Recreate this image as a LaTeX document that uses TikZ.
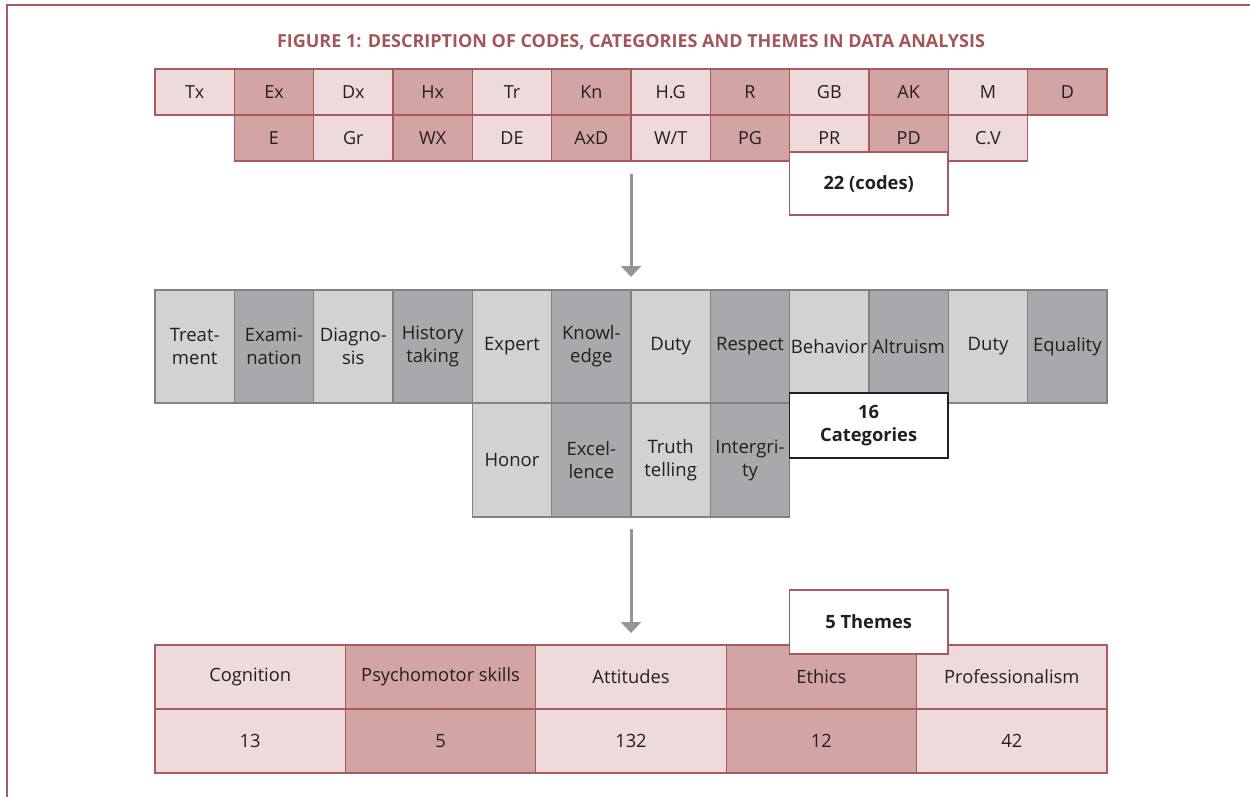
\documentclass[tikz,border=0pt]{standalone}
\usepackage{fontspec}
\setmainfont{Open Sans}
\usetikzlibrary{arrows.meta}
\definecolor{pinkL}{HTML}{EEDADB}
\definecolor{pinkD}{HTML}{D2A4A4}
\definecolor{pinkB}{HTML}{A85A5E}
\definecolor{grayL}{HTML}{D1D2D4}
\definecolor{grayD}{HTML}{A7A9AC}
\definecolor{grayB}{HTML}{808285}
\definecolor{titlec}{HTML}{A3565A}
\definecolor{txt}{HTML}{231F20}
\definecolor{arrowc}{HTML}{939598}
\tikzset{
  base/.style={draw, line width=1.2pt, inner sep=0pt, text=txt, align=center},
  code/.style={base, draw=pinkB, minimum width=79.33pt, minimum height=46pt, font=\fontsize{18}{20}\selectfont},
  codeL/.style={code, fill=pinkL},
  codeD/.style={code, fill=pinkD},
  cat/.style={base, draw=grayB, minimum width=79.33pt, font=\fontsize{18.5}{23}\selectfont},
  catL/.style={cat, fill=grayL},
  catD/.style={cat, fill=grayD},
  theme/.style={base, draw=pinkB, minimum width=190.4pt, minimum height=64pt, font=\fontsize{18.3}{20}\selectfont},
  themeL/.style={theme, fill=pinkL},
  themeD/.style={theme, fill=pinkD},
  label/.style={base, fill=white, minimum width=158.67pt, font=\bfseries\fontsize{18.3}{23}\selectfont},
  flow/.style={draw=arrowc, line width=3pt, -{Triangle[width=20pt,length=11pt]}},
}
\begin{document}
\begin{tikzpicture}[x=1pt,y=-1pt]
\useasboundingbox (0,0) rectangle (1250,797);
% frame
\draw[pinkB, line width=1.5pt] (1250,5) -- (7,5) -- (7,797);
% title
\node[text=titlec, font=\bfseries\fontsize{18}{20}\selectfont] (title) at (631,42) {FIGURE 1: DESCRIPTION OF CODES, CATEGORIES AND THEMES IN DATA ANALYSIS};
% codes row 1
\node[codeL] (c1) at (194.67,92) {Tx};
\node[codeD] (c2) at (274,92) {Ex};
\node[codeL] (c3) at (353.33,92) {Dx};
\node[codeD] (c4) at (432.67,92) {Hx};
\node[codeL] (c5) at (512,92) {Tr};
\node[codeD] (c6) at (591.33,92) {Kn};
\node[codeL] (c7) at (670.67,92) {H.G};
\node[codeD] (c8) at (750,92) {R};
\node[codeL] (c9) at (829.33,92) {GB};
\node[codeD] (c10) at (908.67,92) {AK};
\node[codeL] (c11) at (988,92) {M};
\node[codeD] (c12) at (1067.33,92) {D};
% codes row 2
\node[codeD] (d2) at (274,138) {E};
\node[codeL] (d3) at (353.33,138) {Gr};
\node[codeD] (d4) at (432.67,138) {WX};
\node[codeL] (d5) at (512,138) {DE};
\node[codeD] (d6) at (591.33,138) {AxD};
\node[codeL] (d7) at (670.67,138) {W/T};
\node[codeD] (d8) at (750,138) {PG};
\node[codeL] (d9) at (829.33,138) {PR};
\node[codeD] (d10) at (908.67,138) {PD};
\node[codeL] (d11) at (988,138) {C.V};
\node[label, draw=pinkB, minimum height=63pt] (codes) at (868.67,183.5) {22 (codes)};
% categories row 1
\begin{scope}[every node/.append style={minimum height=113pt}]
\node[catL] (k1) at (194.67,346.5) {Treat-\\ment};
\node[catD] (k2) at (274,346.5) {Exami-\\nation};
\node[catL] (k3) at (353.33,346.5) {Diagno-\\sis};
\node[catD] (k4) at (432.67,346.5) {History\\taking};
\node[catL] (k5) at (512,346.5) {Expert};
\node[catD] (k6) at (591.33,346.5) {Knowl-\\edge};
\node[catL] (k7) at (670.67,346.5) {Duty};
\node[catD] (k8) at (750,346.5) {Respect};
\node[catL] (k9) at (829.33,346.5) {Behavior};
\node[catD] (k10) at (908.67,346.5) {Altruism};
\node[catL] (k11) at (988,346.5) {Duty};
\node[catD] (k12) at (1067.33,346.5) {Equality};
\end{scope}
% categories row 2
\begin{scope}[every node/.append style={minimum height=114pt}]
\node[catL] (m5) at (512,460) {Honor};
\node[catD] (m6) at (591.33,460) {Excel-\\lence};
\node[catL] (m7) at (670.67,460) {Truth\\telling};
\node[catD] (m8) at (750,460) {Intergri-\\ty};
\end{scope}
\node[label, draw=txt, minimum height=65pt] (cats) at (868.67,425.5) {16\\Categories};
% themes
\node[themeL] (t1) at (250.2,677) {Cognition};
\node[themeD] (t2) at (440.6,677) {Psychomotor skills};
\node[themeL] (t3) at (631,677) {Attitudes};
\node[themeD] (t4) at (821.4,677) {Ethics};
\node[themeL] (t5) at (1011.8,677) {Professionalism};
\node[themeL] (n1) at (250.2,741) {13};
\node[themeD] (n2) at (440.6,741) {5};
\node[themeL] (n3) at (631,741) {132};
\node[themeD] (n4) at (821.4,741) {12};
\node[themeL] (n5) at (1011.8,741) {42};
\node[label, draw=pinkB, minimum height=64pt] (themes) at (868.67,622) {5 Themes};
% arrows
\coordinate (a1s) at (631,174);
\coordinate (a1e) at (631,277);
\coordinate (a2s) at (631,529);
\coordinate (a2e) at (631,633);
\draw[flow] (a1s) -- (a1e);
\draw[flow] (a2s) -- (a2e);
\end{tikzpicture}
\end{document}
